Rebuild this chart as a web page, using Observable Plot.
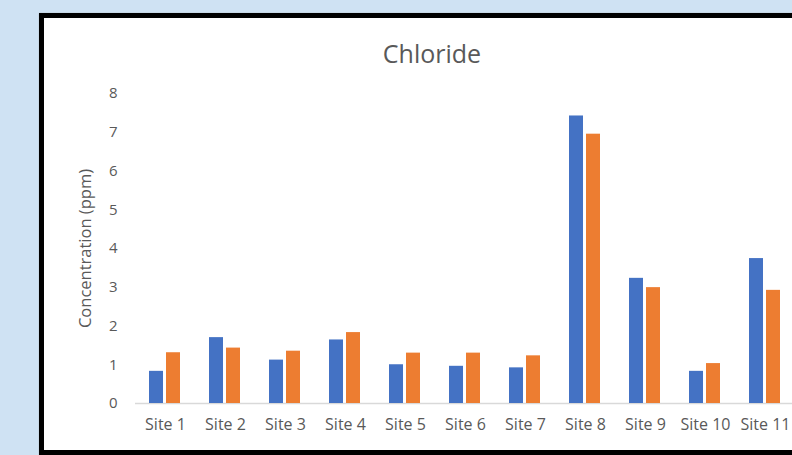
<!DOCTYPE html>
<html>
<head>
<meta charset="utf-8">
<script src="https://cdn.jsdelivr.net/npm/d3@7"></script>
<script src="https://cdn.jsdelivr.net/npm/@observablehq/plot@0.6"></script>
<style>
  html, body { margin: 0; padding: 0; background: #cfe2f3; overflow: hidden; }
  #stage { position: fixed; left: 0; top: 0; width: 792px; height: 455px; overflow: hidden; background: #cfe2f3; }
  #panel {
    position: absolute; left: 39px; top: 13px; right: -120px; bottom: 0;
    background: #fff; border: 5px solid #000; border-right: none;
    box-shadow: 0 0 1.5px 0.5px #9a9a9a;
  }
  #title {
    position: absolute; left: 0; top: 41px; width: 864px; text-align: center;
    font-family: "Open Sans", sans-serif; font-size: 25px; line-height: 25px; color: #595959;
  }
  #chart { position: absolute; left: 0; top: 0; width: 792px; height: 455px; overflow: hidden; }
  #chart svg { overflow: visible; }
</style>
</head>
<body>
<div id="stage">
  <div id="panel"></div>
  <div id="title">Chloride</div>
  <div id="chart"></div>
</div>
<script>
// Chloride concentration per sampling site, two sampling rounds
const sites = ["Site 1", "Site 2", "Site 3", "Site 4", "Site 5", "Site 6", "Site 7", "Site 8", "Site 9", "Site 10", "Site 11"];
const seriesNames = ["Round 1", "Round 2"];
const round1 = [0.83, 1.70, 1.12, 1.64, 1.00, 0.96, 0.92, 7.42, 3.23, 0.83, 3.74];
const round2 = [1.31, 1.43, 1.35, 1.83, 1.30, 1.30, 1.23, 6.95, 2.99, 1.03, 2.92];
const yTicks = [0, 1, 2, 3, 4, 5, 6, 7, 8];
const colors = ["#4472c4", "#ed7d31"];

const rows = sites.flatMap((site, i) => [
  {site, series: seriesNames[0], value: round1[i]},
  {site, series: seriesNames[1], value: round2[i]}
]);

const chart = Plot.plot({
  width: 792,
  height: 455,
  marginTop: 93,
  marginBottom: 52,
  marginLeft: 133,
  marginRight: -4,
  style: {background: "transparent", fontFamily: "'Open Sans', sans-serif", color: "#595959"},
  fx: {domain: sites, padding: 0, axis: null},
  x: {domain: seriesNames, paddingInner: 0.15, paddingOuter: 0.82, axis: null},
  y: {domain: [0, 8], axis: null, label: "Concentration (ppm)"},
  color: {domain: seriesNames, range: colors},
  marks: [
    Plot.ruleY([0], {stroke: "#d9d9d9", strokeWidth: 1.5}),
    Plot.barY(rows, {fx: "site", x: "series", y: "value", fill: "series"}),
    // tick values
    Plot.axisY(yTicks, {tickSize: 0, tickPadding: 18, fontSize: 15, label: null}),
    // axis title, set a little larger than the tick values
    Plot.axisY([], {
      tickSize: 0, fontSize: 16.5,
      label: "Concentration (ppm)", labelAnchor: "center", labelArrow: "none", labelOffset: 56
    }),
    Plot.axisFx({anchor: "bottom", tickSize: 0, tickPadding: 15, fontSize: 16, label: null})
  ]
});
document.getElementById("chart").appendChild(chart);
</script>
</body>
</html>
